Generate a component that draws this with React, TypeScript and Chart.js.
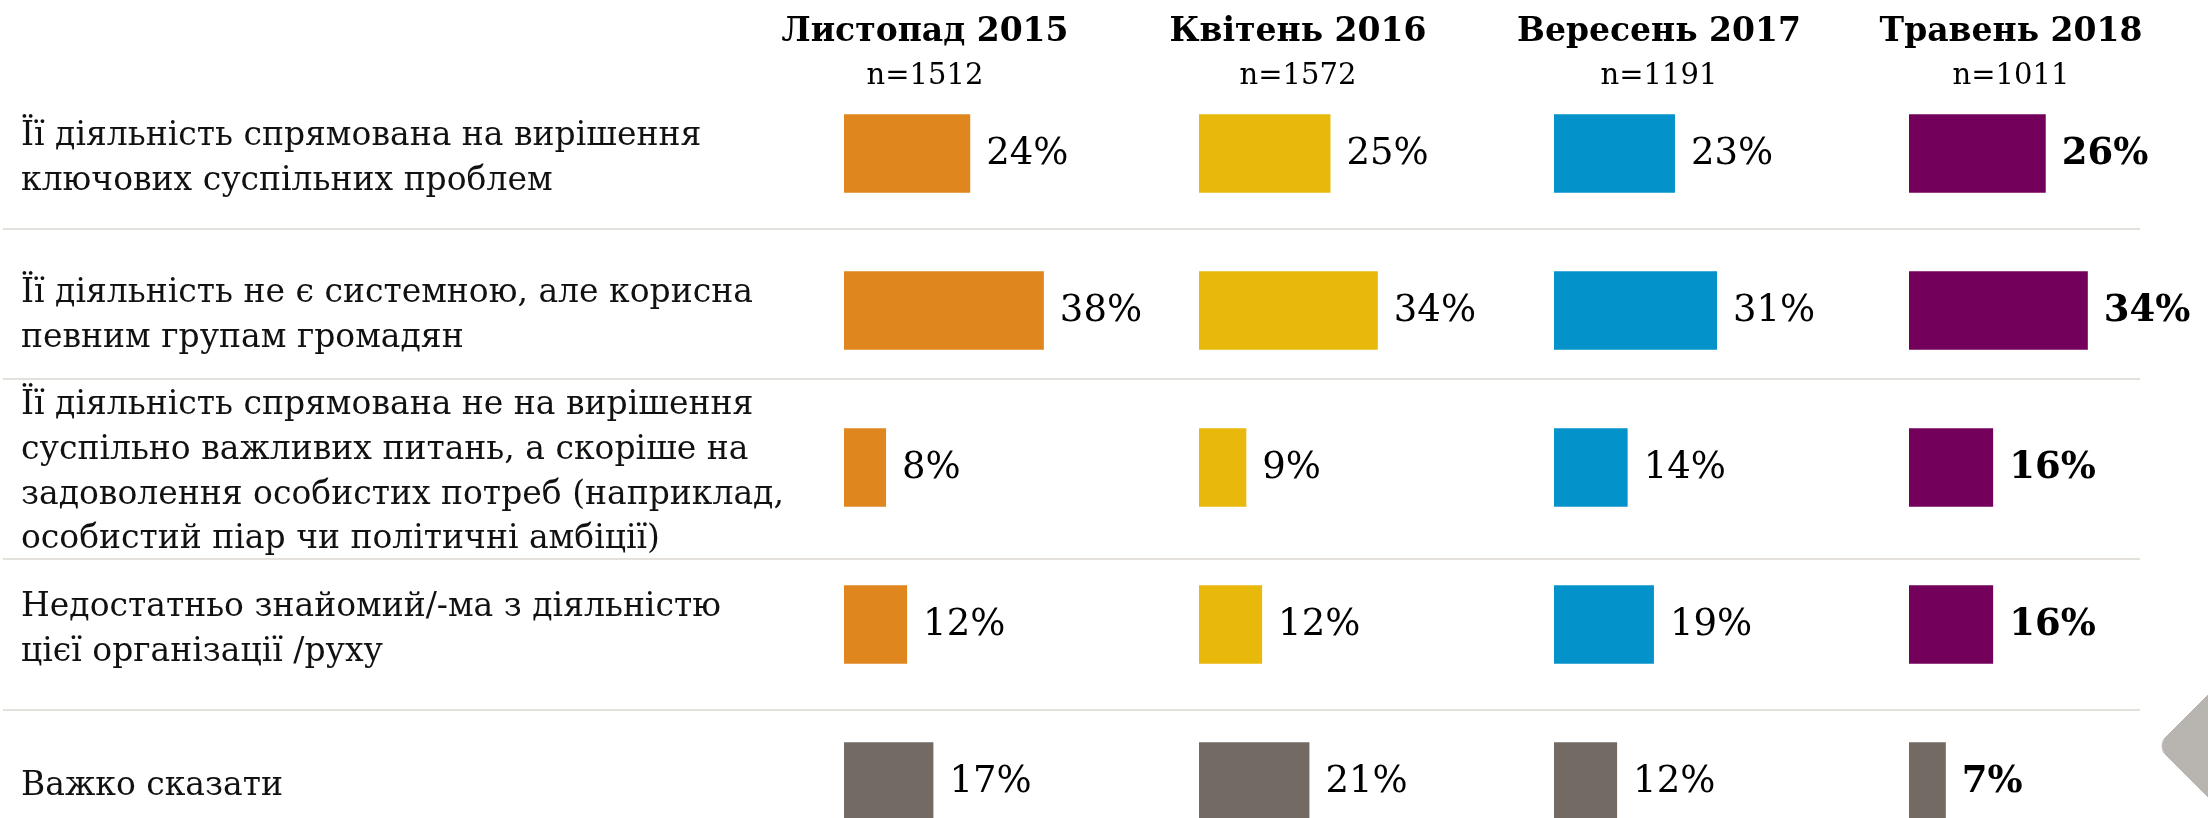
import React, { useEffect, useRef } from "react";
import { Chart, registerables } from "chart.js";

Chart.register(...registerables);

// ---------- data ----------
const categories: (string | string[])[] = [
  ["Її діяльність спрямована на вирішення", "ключових суспільних проблем"],
  ["Її діяльність не є системною, але корисна", "певним групам громадян"],
  [
    "Її діяльність спрямована не на вирішення",
    "суспільно важливих питань, а скоріше на",
    "задоволення особистих потреб (наприклад,",
    "особистий піар чи політичні амбіції)",
  ],
  ["Недостатньо знайомий/-ма з діяльністю", "цієї організації /руху"],
  "Важко сказати",
];

const periods = ["Листопад 2015", "Квітень 2016", "Вересень 2017", "Травень 2018"];
const sampleSizes = ["n=1512", "n=1572", "n=1191", "n=1011"];

const nov2015 = [24, 38, 8, 12, 17];
const apr2016 = [25, 34, 9, 12, 21];
const sep2017 = [23, 31, 14, 19, 12];
const may2018 = [26, 34, 16, 16, 7];

const seriesValues = [nov2015, apr2016, sep2017, may2018];

// ---------- styles ----------
const seriesColors = ["#E0861E", "#E8B90A", "#0392C9", "#73005A"];
const hardToSayColor = "#736A63";
const FONT = '"DejaVu Serif", "Liberation Serif", serif';
const COLUMN_MAX = 67.5;
const SEPARATOR_NUDGE = [-3, -10, 13, 7];
const HEADER_OFFSETS = [81, 99, 105, 102];

const CANVAS_W = 2264;
const CANVAS_H = 870;

const separatorsPlugin = {
  id: "separators",
  beforeDatasetsDraw(chart: any) {
    const y = chart.scales.y;
    const ctx = chart.ctx;
    const n = categories.length;
    ctx.save();
    ctx.strokeStyle = "#E4E0DC";
    ctx.lineWidth = 2;
    for (let i = 0; i < n - 1; i++) {
      const py = (y.getPixelForValue(i) + y.getPixelForValue(i + 1)) / 2 + SEPARATOR_NUDGE[i];
      ctx.beginPath();
      ctx.moveTo(3, py);
      ctx.lineTo(chart.scales.x3.left + 231, py);
      ctx.stroke();
    }
    ctx.restore();
  },
};

const headersPlugin = {
  id: "headers",
  afterDraw(chart: any) {
    const ctx = chart.ctx;
    ctx.save();
    ctx.fillStyle = "#000";
    ctx.textAlign = "center";
    ctx.textBaseline = "middle";
    periods.forEach((p, i) => {
      const sc = chart.scales["x" + i];
      const cx = sc.left + HEADER_OFFSETS[i];
      ctx.font = `bold 33px ${FONT}`;
      ctx.fillText(p, cx, 32);
      ctx.font = `29px ${FONT}`;
      ctx.fillText(sampleSizes[i], cx, 76);
    });
    ctx.restore();
  },
};

const valueLabelsPlugin = {
  id: "valueLabels",
  afterDatasetsDraw(chart: any) {
    const ctx = chart.ctx;
    ctx.save();
    ctx.fillStyle = "#000";
    ctx.textAlign = "left";
    ctx.textBaseline = "middle";
    chart.data.datasets.forEach((ds: any, di: number) => {
      const meta = chart.getDatasetMeta(di);
      ctx.font = `${di === 3 ? "bold " : ""}37px ${FONT}`;
      meta.data.forEach((bar: any, i: number) => {
        ctx.fillText(ds.data[i] + "%", bar.x + 16, bar.y + 1);
      });
    });
    ctx.restore();
  },
};

export default function App() {
  const canvasRef = useRef<HTMLCanvasElement | null>(null);

  useEffect(() => {
    if (!canvasRef.current) return;
    const last = categories.length - 1;
    const datasets = seriesValues.map((vals, i) => ({
      label: periods[i],
      data: vals,
      xAxisID: "x" + i,
      yAxisID: "y",
      grouped: false,
      backgroundColor: vals.map((_, j) => (j === last ? hardToSayColor : seriesColors[i])),
      borderWidth: 0,
      barPercentage: 0.5,
      categoryPercentage: 1,
    }));

    const xScales: any = {};
    periods.forEach((_, i) => {
      xScales["x" + i] = {
        type: "linear",
        axis: "x",
        position: "bottom",
        stack: "columns",
        stackWeight: 1,
        min: 0,
        max: COLUMN_MAX,
        display: false,
      };
    });

    const chart = new Chart(canvasRef.current, {
      type: "bar",
      data: { labels: categories as any, datasets: datasets as any },
      options: {
        indexAxis: "y",
        animation: false,
        responsive: false,
        devicePixelRatio: 1,
        layout: { padding: { left: 21, top: 75, right: 0, bottom: 10 } },
        plugins: {
          legend: { display: false },
          tooltip: { enabled: false },
          title: { display: false },
        },
        scales: {
          y: {
            type: "category",
            position: "left",
            offset: true,
            grid: { display: false, drawTicks: false },
            border: { display: false },
            ticks: {
              autoSkip: false,
              crossAlign: "far",
              color: "#111",
              labelOffset: 5,
              font: { family: FONT, size: 33, lineHeight: 1.36 },
            },
            afterFit(scale: any) {
              scale.width = 823;
              scale.paddingTop = 0;
              scale.paddingBottom = 0;
            },
          },
          ...xScales,
        },
      } as any,
      plugins: [separatorsPlugin, headersPlugin, valueLabelsPlugin],
    });
    return () => chart.destroy();
  }, []);

  return (
    <div
      style={{
        position: "absolute",
        left: 0,
        top: 0,
        width: 2208,
        height: 818,
        overflow: "hidden",
        background: "#fff",
      }}
    >
      <canvas
        ref={canvasRef}
        width={CANVAS_W}
        height={CANVAS_H}
        style={{ position: "absolute", left: 0, top: 0, width: CANVAS_W, height: CANVAS_H }}
      />
      <div
        style={{
          position: "absolute",
          left: 2192,
          top: 661,
          width: 170,
          height: 170,
          background: "#B8B4B0",
          borderRadius: 12,
          transform: "rotate(45deg)",
        }}
      />
    </div>
  );
}
